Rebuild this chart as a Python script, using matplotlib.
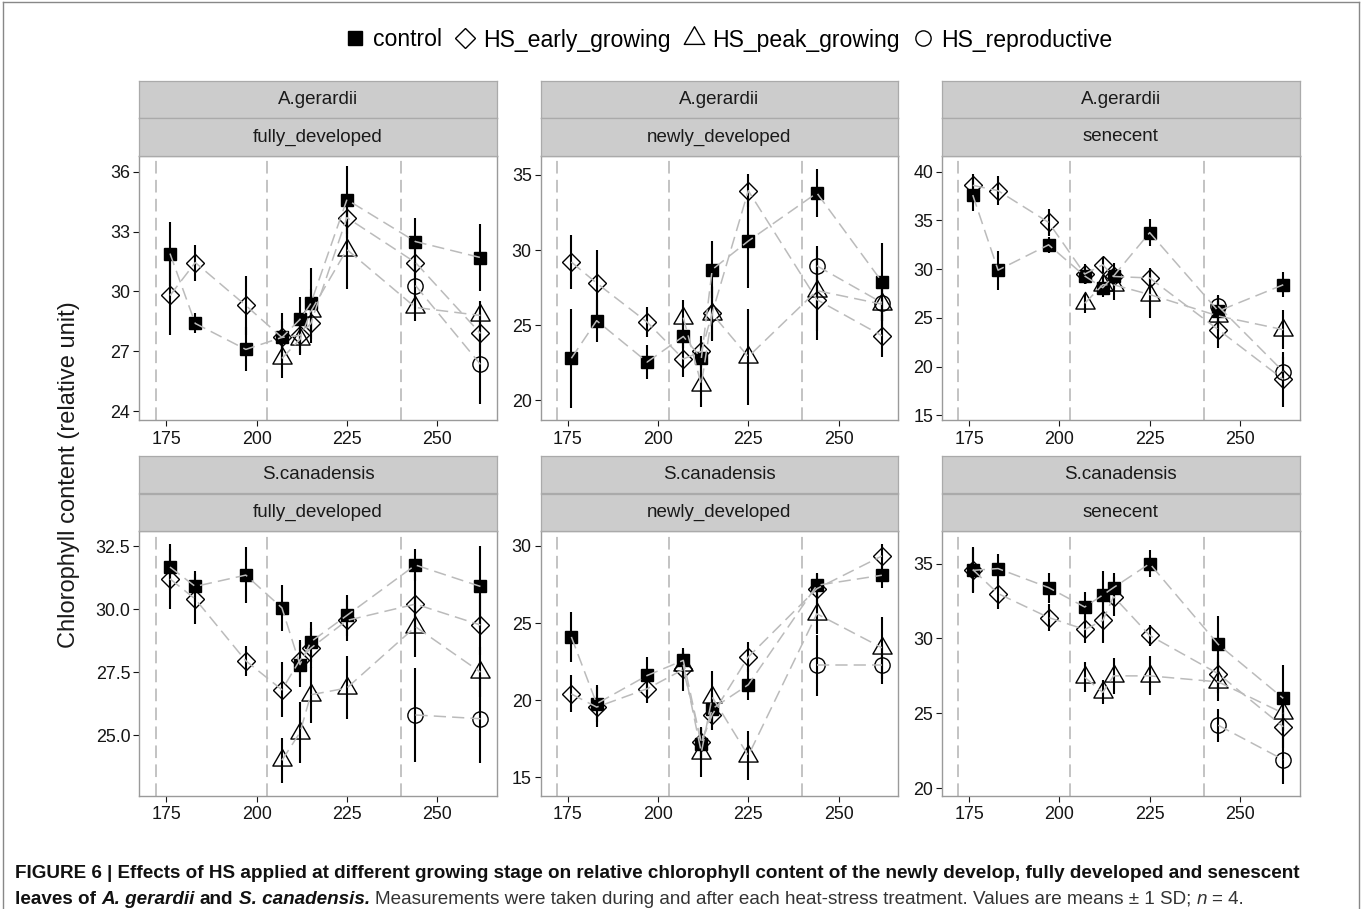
"""
Chlorophyll content of A. gerardii and S. canadensis leaves under heat stress
applied at different growing stages (faceted by species and leaf type).
"""

import matplotlib
matplotlib.use("Agg")
import matplotlib.pyplot as plt
from matplotlib import font_manager
from matplotlib.lines import Line2D
from matplotlib.path import Path
from matplotlib.ticker import FormatStrFormatter, FixedLocator
import numpy as np

plt.rcParams['font.family'] = ['Liberation Sans', 'DejaVu Sans']

W, H = 1362, 909

# Sampling days (day of year) and heat-stress start days
days = [176, 183, 197, 207, 212, 215, 225, 244, 262]
peak_days = days[3:]
repro_days = days[7:]
heat_starts = [172, 203, 240]

species = ["A.gerardii", "S.canadensis"]
leaf_types = ["fully_developed", "newly_developed", "senecent"]
treatments = ["control", "HS_early_growing", "HS_peak_growing", "HS_reproductive"]

# A.gerardii / fully_developed
ag_fd_control = [31.9, 28.4, 27.1, 27.7, 28.6, 29.4, 34.6, 32.5, 31.7]
ag_fd_control_sd = [1.6, 0.5, 1.1, 1.2, 1.1, 1.8, 1.7, 1.2, 1.7]
ag_fd_early = [29.8, 31.45, 29.3, 27.7, 27.8, 28.4, 33.7, 31.45, 27.9]
ag_fd_early_sd = [2.0, 0.9, 1.5, 0.8, 0.9, 1.0, 1.0, 1.0, 1.0]
ag_fd_peak = [26.65, 27.6, 29.0, 32.1, 29.2, 28.8]
ag_fd_peak_sd = [1.0, 0.8, 1.1, 2.0, 0.7, 0.7]
ag_fd_repro = [30.3, 26.35]
ag_fd_repro_sd = [1.2, 2.0]

# A.gerardii / newly_developed
ag_nd_control = [22.8, 25.3, 22.55, 24.25, 22.8, 28.7, 30.6, 33.8, 27.9]
ag_nd_control_sd = [3.3, 1.4, 1.1, 0.8, 1.2, 1.9, 3.1, 1.6, 2.6]
ag_nd_early = [29.2, 27.8, 25.2, 22.75, 23.25, 25.8, 33.95, 26.7, 24.3]
ag_nd_early_sd = [1.8, 2.2, 1.0, 1.2, 1.0, 1.8, 1.1, 2.7, 1.4]
ag_nd_peak = [25.5, 21.05, 25.75, 22.9, 27.3, 26.4]
ag_nd_peak_sd = [1.2, 1.5, 1.8, 3.2, 2.7, 1.5]
ag_nd_repro = [28.95, 26.5]
ag_nd_repro_sd = [1.3, 1.2]

# A.gerardii / senecent
ag_se_control = [37.6, 29.9, 32.5, 29.3, 28.1, 29.3, 33.75, 25.7, 28.4]
ag_se_control_sd = [1.6, 2.0, 0.8, 0.8, 1.0, 1.3, 1.4, 1.5, 1.3]
ag_se_early = [38.6, 38.05, 34.8, 29.5, 30.45, 29.25, 29.1, 23.8, 18.7]
ag_se_early_sd = [1.2, 1.5, 1.4, 1.0, 0.8, 1.0, 1.0, 1.9, 2.8]
ag_se_peak = [26.5, 28.4, 28.4, 27.4, 25.2, 23.8]
ag_se_peak_sd = [1.0, 1.0, 1.6, 2.4, 1.5, 2.0]
ag_se_repro = [26.2, 19.5]
ag_se_repro_sd = [1.2, 1.5]

# S.canadensis / fully_developed
sc_fd_control = [31.67, 30.9, 31.35, 30.05, 27.8, 28.7, 29.75, 31.75, 30.9]
sc_fd_control_sd = [0.9, 0.6, 1.1, 0.9, 0.9, 0.8, 0.8, 0.65, 1.6]
sc_fd_early = [31.2, 30.4, 27.95, 26.8, 27.98, 28.45, 29.55, 30.2, 29.37]
sc_fd_early_sd = [1.2, 1.0, 0.6, 1.1, 0.8, 0.8, 0.8, 1.2, 1.2]
sc_fd_peak = [24.0, 25.1, 26.6, 26.87, 29.3, 27.5]
sc_fd_peak_sd = [0.9, 1.2, 1.1, 1.25, 1.2, 1.0]
sc_fd_repro = [25.8, 25.65]
sc_fd_repro_sd = [1.85, 1.75]

# S.canadensis / newly_developed
sc_nd_control = [24.1, 19.77, 21.6, 22.58, 17.17, 19.44, 21.0, 27.45, 28.1]
sc_nd_control_sd = [1.6, 1.2, 1.2, 0.7, 1.0, 1.0, 1.0, 0.75, 0.8]
sc_nd_early = [20.4, 19.55, 20.74, 21.99, 17.27, 19.05, 22.8, 27.23, 29.35]
sc_nd_early_sd = [1.2, 1.3, 0.9, 1.4, 1.0, 1.0, 1.0, 1.0, 0.8]
sc_nd_peak = [22.3, 16.6, 20.2, 16.4, 25.6, 23.4]
sc_nd_peak_sd = [0.8, 1.6, 1.7, 1.6, 1.3, 2.0]
sc_nd_repro = [22.25, 22.25]
sc_nd_repro_sd = [2.0, 1.2]

# S.canadensis / senecent
sc_se_control = [34.55, 34.67, 33.4, 32.1, 32.9, 33.4, 35.0, 29.6, 26.0]
sc_se_control_sd = [1.5, 1.0, 1.0, 1.0, 1.6, 1.0, 0.9, 1.9, 2.2]
sc_se_early = [34.6, 33.0, 31.4, 30.6, 31.2, 32.8, 30.2, 27.64, 24.1]
sc_se_early_sd = [1.5, 1.0, 0.9, 0.9, 1.5, 1.3, 0.7, 1.3, 1.4]
sc_se_peak = [27.4, 26.4, 27.5, 27.5, 27.1, 25.0]
sc_se_peak_sd = [1.0, 0.8, 1.2, 1.3, 1.3, 1.2]
sc_se_repro = [24.2, 21.9]
sc_se_repro_sd = [1.1, 1.6]

panel_data = {
    (0, 0): [(ag_fd_control, ag_fd_control_sd), (ag_fd_early, ag_fd_early_sd),
             (ag_fd_peak, ag_fd_peak_sd), (ag_fd_repro, ag_fd_repro_sd)],
    (0, 1): [(ag_nd_control, ag_nd_control_sd), (ag_nd_early, ag_nd_early_sd),
             (ag_nd_peak, ag_nd_peak_sd), (ag_nd_repro, ag_nd_repro_sd)],
    (0, 2): [(ag_se_control, ag_se_control_sd), (ag_se_early, ag_se_early_sd),
             (ag_se_peak, ag_se_peak_sd), (ag_se_repro, ag_se_repro_sd)],
    (1, 0): [(sc_fd_control, sc_fd_control_sd), (sc_fd_early, sc_fd_early_sd),
             (sc_fd_peak, sc_fd_peak_sd), (sc_fd_repro, sc_fd_repro_sd)],
    (1, 1): [(sc_nd_control, sc_nd_control_sd), (sc_nd_early, sc_nd_early_sd),
             (sc_nd_peak, sc_nd_peak_sd), (sc_nd_repro, sc_nd_repro_sd)],
    (1, 2): [(sc_se_control, sc_se_control_sd), (sc_se_early, sc_se_early_sd),
             (sc_se_peak, sc_se_peak_sd), (sc_se_repro, sc_se_repro_sd)],
}
series_days = [days, days, peak_days, repro_days]

# free y scales per panel
ylims = {(0, 0): (23.55, 36.8), (0, 1): (18.67, 36.28), (0, 2): (14.5, 41.64),
         (1, 0): (22.6, 33.1), (1, 1): (13.81, 30.97), (1, 2): (19.5, 37.18)}
yticks = {(0, 0): [24, 27, 30, 33, 36], (0, 1): [20, 25, 30, 35],
          (0, 2): [15, 20, 25, 30, 35, 40], (1, 0): [25.0, 27.5, 30.0, 32.5],
          (1, 1): [15, 20, 25, 30], (1, 2): [20, 25, 30, 35]}

# marker styles (ggplot shapes 15, 5, 2, 1)
tri = Path([(-1, -0.577), (1, -0.577), (0, 1.155), (-1, -0.577)],
           [Path.MOVETO, Path.LINETO, Path.LINETO, Path.CLOSEPOLY])
styles = [
    dict(marker='s', ms=9.2, mfc='black', mec='black', mew=1.0),
    dict(marker='D', ms=9.5, mfc='none', mec='black', mew=1.0),
    dict(marker=tri, ms=16, mfc='none', mec='black', mew=1.0),
    dict(marker='o', ms=11, mfc='none', mec='black', mew=1.0),
]
legend_ms = [10.5, 10.5, 17, 11]

fig = plt.figure(figsize=(W / 100, H / 100), dpi=100)


def px_axes(x0, y0, w, h):
    return fig.add_axes([x0 / W, 1 - (y0 + h) / H, w / W, h / H])


col_left = [139.3, 540.7, 942.1]
panel_w = 357.4
strip_top = [80.7, 456.0]
strip_h = 37.5
panel_h = 264.6

for r in range(2):
    for c in range(3):
        top = strip_top[r] + 2 * strip_h
        ax = px_axes(col_left[c], top, panel_w, panel_h)

        # heat stress start markers
        for d in heat_starts:
            ax.axvline(d, color='#BEBEBE', lw=1.3, linestyle=(0, (7, 3.5)), zorder=1)

        for k, (vals, sds) in enumerate(panel_data[(r, c)]):
            x = series_days[k]
            ax.errorbar(x, vals, yerr=sds, fmt='none', ecolor='black',
                        elinewidth=1.5, capsize=0, zorder=2.5)
            ax.plot(x, vals, linestyle='none', zorder=3, **styles[k])
            ax.plot(x, vals, color='#BBBBBB', lw=1.1,
                    linestyle=(0, (8, 4)), zorder=4)

        ax.set_xlim(167.5, 266.5)
        ax.set_ylim(*ylims[(r, c)])
        ax.xaxis.set_major_locator(FixedLocator([175, 200, 225, 250]))
        ax.yaxis.set_major_locator(FixedLocator(yticks[(r, c)]))
        if (r, c) == (1, 0):
            ax.yaxis.set_major_formatter(FormatStrFormatter('%.1f'))
        else:
            ax.yaxis.set_major_formatter(FormatStrFormatter('%g'))
        ax.tick_params(labelsize=12.9, colors='#151515', length=4, width=0.8,
                       pad=2.5)
        ax.tick_params(axis='x', pad=3.5)
        for sp in ax.spines.values():
            sp.set_color('#9A9A9A')
            sp.set_linewidth(1.0)

        # facet strips: species on top, leaf type below
        for j, label in enumerate([species[r], leaf_types[c]]):
            sax = px_axes(col_left[c], strip_top[r] + j * strip_h, panel_w, strip_h)
            sax.set_facecolor('#CCCCCC')
            sax.set_xticks([])
            sax.set_yticks([])
            for sp in sax.spines.values():
                sp.set_color('#AAAAAA')
                sp.set_linewidth(0.9)
            sax.text(0.5, 0.5, label, ha='center', va='center', fontsize=13.5,
                     color='#1A1A1A', transform=sax.transAxes)

# shared y label
fig.text(69 / W, 1 - 475 / H, 'Chlorophyll content (relative unit)', rotation=90,
         ha='center', va='center', fontsize=17, color='#1A1A1A')

# legend across the top
handles = [Line2D([], [], linestyle='none', **dict(st, ms=m))
           for st, m in zip(styles, legend_ms)]
fig.legend(handles, treatments, loc='center', bbox_to_anchor=(729 / W, 1 - 40 / H),
           ncol=4, frameon=False, fontsize=16.6, handlelength=0.8,
           handletextpad=0.4, columnspacing=0.6, borderpad=0, borderaxespad=0)

# frame around the figure area
frame_kw = dict(color='#888888', lw=1.0, transform=fig.transFigure)
fig.add_artist(Line2D([3 / W, 3 / W], [0, 1 - 2 / H], **frame_kw))
fig.add_artist(Line2D([1359 / W, 1359 / W], [0, 1 - 2 / H], **frame_kw))
fig.add_artist(Line2D([3 / W, 1359 / W], [1 - 2 / H, 1 - 2 / H], **frame_kw))

# caption, written piece by piece to mix bold / italic / regular
names = {f.name for f in font_manager.fontManager.ttflist}
cap_font = 'Liberation Sans Narrow' if 'Liberation Sans Narrow' in names else 'Liberation Sans'
renderer = fig.canvas.get_renderer()

line1 = ("FIGURE 6 | Effects of HS applied at different growing stage on relative "
         "chlorophyll content of the newly develop, fully developed and senescent")
probe = fig.text(0, 0, line1, fontsize=13, fontweight='bold', family=cap_font)
cap_size = 13 * 1275 / probe.get_window_extent(renderer).width
probe.remove()


def text_width(s, weight, style):
    t = fig.text(0, 0, s, fontsize=cap_size, fontweight=weight, fontstyle=style,
                 family=cap_font)
    w = t.get_window_extent(renderer).width
    t.remove()
    return w


def write_pieces(x_px, y_px, pieces):
    for s, weight, style, color in pieces:
        lead = len(s) - len(s.lstrip(' '))
        if lead:
            x_px += text_width('x' + ' ' * lead + 'x', weight, style) - text_width('xx', weight, style)
        s = s.strip(' ')
        fig.text(x_px / W, 1 - y_px / H, s, fontsize=cap_size, fontweight=weight,
                 fontstyle=style, family=cap_font, color=color, va='baseline')
        x_px += text_width(s, weight, style)


write_pieces(15, 877.5, [(line1, 'bold', 'normal', '#111111')])
write_pieces(15, 904, [
    ("leaves of", 'bold', 'normal', '#111111'),
    (" A. gerardii", 'bold', 'italic', '#111111'),
    (" and", 'bold', 'normal', '#111111'),
    (" S. canadensis.", 'bold', 'italic', '#111111'),
    (" Measurements were taken during and after each heat-stress treatment. "
     "Values are means \u00b1 1 SD;", 'normal', 'normal', '#333333'),
    (" n", 'normal', 'italic', '#333333'),
    (" = 4.", 'normal', 'normal', '#333333'),
])

fig.savefig('out.png', dpi=100)
